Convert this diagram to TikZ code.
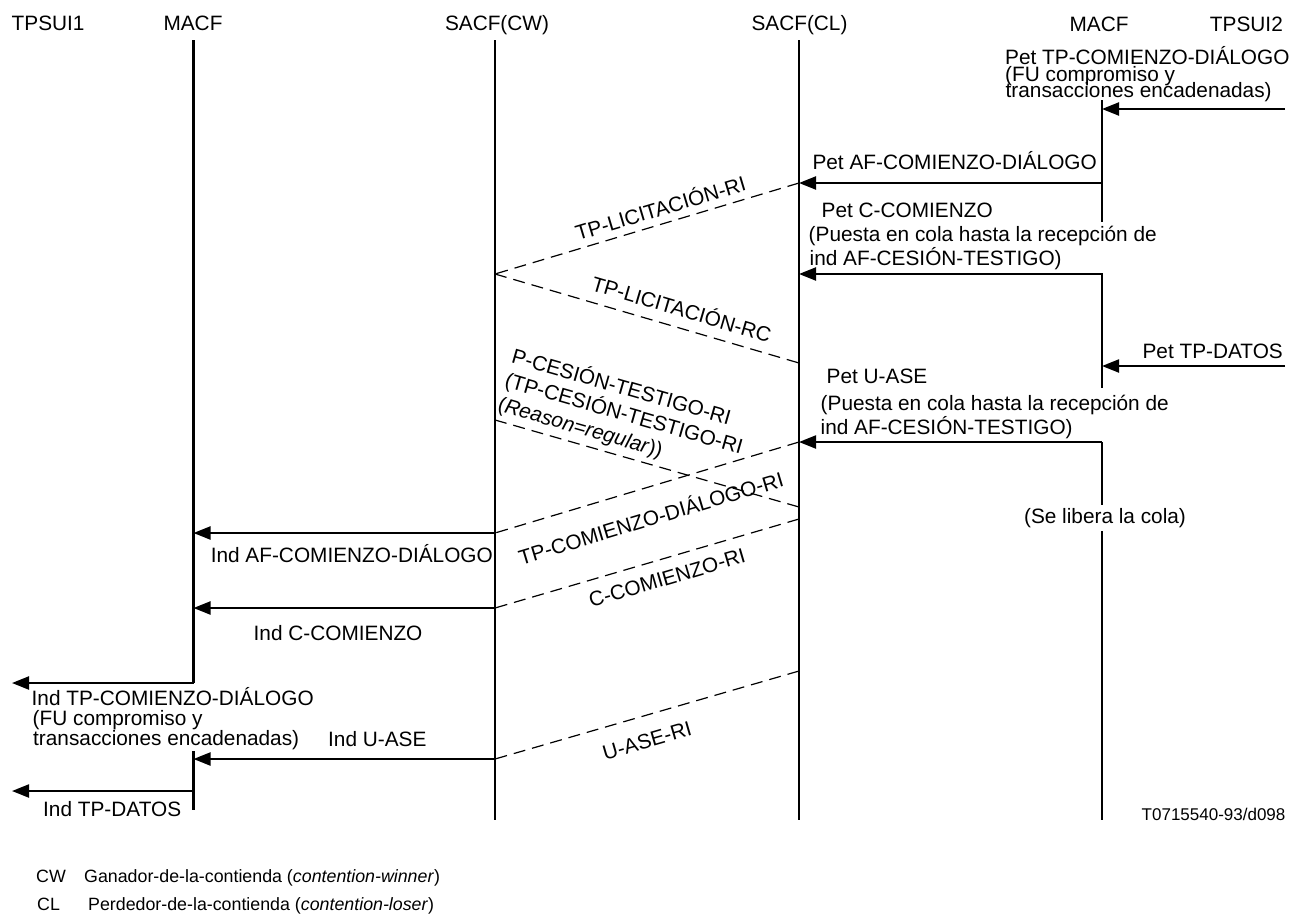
\documentclass[tikz,border=0pt]{standalone}
\usepackage{fontspec}
\setmainfont{Liberation Sans}
\usetikzlibrary{arrows.meta}

\tikzset{
  life/.style={line width=2.2pt},
  prim/.style={line width=2.2pt, -{Triangle[length=17pt,width=13pt]}},
  pdu/.style={line width=1.2pt, dash pattern=on 12pt off 7pt},
  txt/.style={inner sep=0pt, font=\fontsize{20.8}{24}\selectfont},
  smalltxt/.style={inner sep=0pt, font=\fontsize{17.8}{20}\selectfont},
}

\begin{document}
\begin{tikzpicture}[x=1pt, y=-1pt]
            \useasboundingbox (0,0) rectangle (1308,918);

            % entity names
            \node[txt, anchor=base west] (tpsui1) at (11.5,30) {TPSUI1};
            \node[txt, anchor=base] (macf1) at (193,30) {MACF};
            \node[txt, anchor=base] (sacfcw) at (497,30) {SACF(CW)};
            \node[txt, anchor=base] (sacfcl) at (799.5,30) {SACF(CL)};
            \node[txt, anchor=base] (macf2) at (1099,31.5) {MACF};
            \node[txt, anchor=base east] (tpsui2) at (1283,31.5) {TPSUI2};

            % life lines
            \draw[life] (193.5,40) -- (193.5,683);
            \draw[life] (193.5,751) -- (193.5,810);
            \draw[life] (495,40) -- (495,820);
            \draw[life] (799,40) -- (799,820);
            \draw[life] (1102,100) -- (1102,222);
            \draw[life] (1102,273) -- (1102,388);
            \draw[life] (1102,442) -- (1102,505);
            \draw[life] (1102,531) -- (1102,820);

            % points on the life lines
            \coordinate (u2a) at (1285,109);
            \coordinate (u2b) at (1285,366);
            \coordinate (m2a) at (1102,109);
            \coordinate (m2b) at (1102,183);
            \coordinate (m2c) at (1102,274);
            \coordinate (m2d) at (1102,366);
            \coordinate (m2e) at (1102,442);
            \coordinate (cla) at (799,183);
            \coordinate (clb) at (799,274);
            \coordinate (clc) at (799,363);
            \coordinate (cld) at (799,442);
            \coordinate (cle) at (799,507);
            \coordinate (clf) at (799,519);
            \coordinate (clg) at (799,671);
            \coordinate (cwa) at (495,274);
            \coordinate (cwb) at (495,420);
            \coordinate (cwc) at (495,533);
            \coordinate (cwd) at (495,608);
            \coordinate (cwe) at (495,759);
            \coordinate (m1a) at (193.5,533);
            \coordinate (m1b) at (193.5,608);
            \coordinate (m1c) at (193.5,683);
            \coordinate (m1d) at (193.5,759);
            \coordinate (m1e) at (193.5,791);
            \coordinate (u1a) at (12,683);
            \coordinate (u1b) at (12,791);

            % primitives
            \draw[prim] (u2a) -- (m2a);
            \draw[prim] (m2b) -- (cla);
            \draw[prim] (m2c) -- (clb);
            \draw[prim] (u2b) -- (m2d);
            \draw[prim] (m2e) -- (cld);
            \draw[prim] (cwc) -- (m1a);
            \draw[prim] (cwd) -- (m1b);
            \draw[prim] (m1c) -- (u1a);
            \draw[prim] (cwe) -- (m1d);
            \draw[prim] (m1e) -- (u1b);

            % APDUs
            \draw[pdu] (cla) -- (cwa);
            \draw[pdu] (cwa) -- (clc);
            \draw[pdu] (cwb) -- (cle);
            \draw[pdu] (cld) -- (cwc);
            \draw[pdu] (clf) -- (cwd);
            \draw[pdu] (clg) -- (cwe);

            % labels of the APDUs
            \node[txt, rotate=16.7] (licri) at (660,207) {TP-LICITACIÓN-RI};
            \node[txt, rotate=-16.4] (licrc) at (682,308) {TP-LICITACIÓN-RC};
            \node[txt, rotate=-16, anchor=north west, align=left,
                  font=\fontsize{20.8}{25}\selectfont] (cesion) at (515.5,345)
                {P-CESIÓN-TESTIGO-RI\\(TP-CESIÓN-TESTIGO-RI\\(\textit{Reason=regular}))};
            \node[txt, rotate=16.7] (comri) at (650.5,517) {TP-COMIENZO-DIÁLOGO-RI};
            \node[txt, rotate=16.4] (ccomri) at (667,578) {C-COMIENZO-RI};
            \node[txt, rotate=16.2] (uaseri) at (647,741) {U-ASE-RI};

            % labels on the right side
            \node[txt, anchor=base west] (pet1a) at (1005,64) {Pet TP-COMIENZO-DIÁLOGO};
            \node[txt, anchor=base west] (pet1b) at (1005,81) {(FU compromiso y};
            \node[txt, anchor=base west] (pet1c) at (1005.5,97.5) {transacciones encadenadas)};
            \node[txt, anchor=base east] (pet2) at (1097,169) {Pet AF-COMIENZO-DIÁLOGO};
            \node[txt, anchor=base west] (pet3a) at (821.5,217) {Pet C-COMIENZO};
            \node[txt, anchor=base west] (pet3b) at (808.5,241.5) {(Puesta en cola hasta la recepción de};
            \node[txt, anchor=base west] (pet3c) at (809.5,265) {ind AF-CESIÓN-TESTIGO)};
            \node[txt, anchor=base east] (pet4) at (1283,358.5) {Pet TP-DATOS};
            \node[txt, anchor=base west] (pet5a) at (826.5,383.5) {Pet U-ASE};
            \node[txt, anchor=base west] (pet5b) at (820.5,410) {(Puesta en cola hasta la recepción de};
            \node[txt, anchor=base west] (pet5c) at (820.5,434) {ind AF-CESIÓN-TESTIGO)};
            \node[txt, anchor=base] (cola) at (1105,523) {(Se libera la cola)};

            % labels on the left side
            \node[txt, anchor=base east] (ind1) at (493,562.5) {Ind AF-COMIENZO-DIÁLOGO};
            \node[txt, anchor=base west] (ind2) at (253.5,640.5) {Ind C-COMIENZO};
            \node[txt, anchor=base west] (ind3a) at (31.5,705) {Ind TP-COMIENZO-DIÁLOGO};
            \node[txt, anchor=base west] (ind3b) at (32.5,725) {(FU compromiso y};
            \node[txt, anchor=base west] (ind3c) at (33,745) {transacciones encadenadas)};
            \node[txt, anchor=base west] (ind4) at (328,746.5) {Ind U-ASE};
            \node[txt, anchor=base west] (ind5) at (43,816.5) {Ind TP-DATOS};

            % figure number and abbreviations
            \node[smalltxt, font=\fontsize{17}{20}\selectfont, anchor=base west] (fignum) at (1141.5,820) {T0715540-93/d098};
            \node[smalltxt, anchor=base west] (cw) at (36,882) {CW};
            \node[smalltxt, anchor=base west] (cwtext) at (84,882) {Ganador-de-la-contienda (\textit{contention-winner})};
            \node[smalltxt, anchor=base west] (cl) at (37,910) {CL};
            \node[smalltxt, anchor=base west] (cltext) at (88,910) {Perdedor-de-la-contienda (\textit{contention-loser})};

\end{tikzpicture}
\end{document}
